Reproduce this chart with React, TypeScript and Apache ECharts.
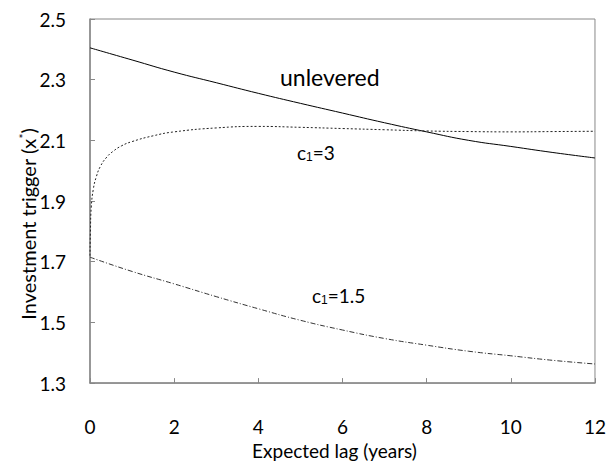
import React, { useEffect, useRef } from "react";
import * as echarts from "echarts";

const unleveredX = [0, 1, 2, 3, 4, 5, 6, 7, 8, 9, 10, 11, 12];
const unleveredY = [2.405, 2.365, 2.325, 2.29, 2.255, 2.222, 2.19, 2.158, 2.128, 2.1, 2.08, 2.06, 2.042];

const c3X = [0, 0.01, 0.03, 0.08, 0.15, 0.25, 0.4, 0.55, 0.75, 1, 1.5, 2, 3, 4, 5, 6, 7, 8, 9, 10, 11, 12];
const c3Y = [1.72, 1.8, 1.88, 1.94, 1.98, 2.015, 2.045, 2.064, 2.082, 2.096, 2.115, 2.128, 2.141, 2.146, 2.143, 2.139, 2.135, 2.131, 2.129, 2.128, 2.129, 2.13];

const c15X = [0, 1, 2, 3, 4, 5, 6, 7, 8, 9, 10, 11, 12];
const c15Y = [1.715, 1.668, 1.627, 1.585, 1.545, 1.507, 1.475, 1.447, 1.425, 1.405, 1.39, 1.375, 1.363];

const xTicks = [0, 2, 4, 6, 8, 10, 12];
const yTicks = [1.3, 1.5, 1.7, 1.9, 2.1, 2.3, 2.5];

const FONT = "Lato, 'Open Sans', sans-serif";

function pairs(xs: number[], ys: number[]) {
  return xs.map((x, i) => [x, ys[i]]);
}

export default function App() {
  const ref = useRef<HTMLDivElement>(null);
  useEffect(() => {
    document.body.style.margin = "0";
    const chart = echarts.init(ref.current!, null, { renderer: "svg" });
    const axisColor = "#888888";
    chart.setOption({
      animation: false,
      backgroundColor: "#ffffff",
      grid: {
        left: 90,
        right: 12,
        top: 19,
        bottom: 77,
        show: true,
        borderColor: axisColor,
        borderWidth: 1,
      },
      xAxis: {
        type: "value",
        min: xTicks[0],
        max: xTicks[xTicks.length - 1],
        interval: 2,
        name: "Expected lag (years)",
        nameLocation: "middle",
        nameGap: 52,
        nameTextStyle: { fontFamily: FONT, fontSize: 19, color: "#000", padding: [0, 16, 0, 0] },
        axisLine: { show: true, lineStyle: { color: axisColor, width: 1.5 } },
        axisTick: { show: true, inside: true, length: 5, lineStyle: { color: axisColor } },
        axisLabel: { fontFamily: FONT, fontSize: 19, color: "#000", margin: 34 },
        splitLine: { show: false },
      },
      yAxis: {
        type: "value",
        min: yTicks[0],
        max: yTicks[yTicks.length - 1],
        interval: 0.2,
        axisLine: { show: true, lineStyle: { color: axisColor, width: 1.5 } },
        axisTick: { show: true, inside: true, length: 5, lineStyle: { color: axisColor } },
        axisLabel: {
          fontFamily: FONT,
          fontSize: 19,
          color: "#000",
          margin: 24,
          formatter: (v: number) => v.toFixed(1),
        },
        splitLine: { show: false },
      },
      series: [
        {
          type: "line",
          name: "unlevered",
          data: pairs(unleveredX, unleveredY),
          smooth: true,
          showSymbol: false,
          lineStyle: { color: "#000", width: 1 },
        },
        {
          type: "line",
          name: "c1=3",
          data: pairs(c3X, c3Y),
          smooth: true,
          showSymbol: false,
          lineStyle: { color: "#222", width: 1, type: [2, 2] },
        },
        {
          type: "line",
          name: "c1=1.5",
          data: pairs(c15X, c15Y),
          smooth: true,
          showSymbol: false,
          lineStyle: { color: "#333", width: 1, type: [5, 2, 1, 2] },
        },
      ],
      graphic: [
        {
          type: "text",
          x: 28,
          y: 224,
          rotation: Math.PI / 2,
          style: {
            text: "Investment trigger (x{sup|*})",
            fontFamily: FONT,
            fontSize: 20,
            fill: "#000",
            align: "center",
            verticalAlign: "middle",
            rich: { sup: { fontFamily: FONT, fontSize: 12, fill: "#000", padding: [0, 0, 9, 0] } },
          },
        },
        {
          type: "text",
          left: 280,
          top: 65,
          style: { text: "unlevered", fontFamily: FONT, fontSize: 23, fill: "#000" },
        },
        {
          type: "text",
          left: 297,
          top: 143,
          style: {
            text: "c{sub|1}=3",
            fontFamily: FONT,
            fontSize: 19,
            fill: "#000",
            rich: { sub: { fontSize: 12, fill: "#000", padding: [9, 0, 0, 0] } },
          },
        },
        {
          type: "text",
          left: 312,
          top: 286,
          style: {
            text: "c{sub|1}=1.5",
            fontFamily: FONT,
            fontSize: 19,
            fill: "#000",
            rich: { sub: { fontSize: 12, fill: "#000", padding: [9, 0, 0, 0] } },
          },
        },
      ],
    });
    return () => chart.dispose();
  }, []);
  return <div ref={ref} style={{ width: 609, height: 465 }} />;
}
